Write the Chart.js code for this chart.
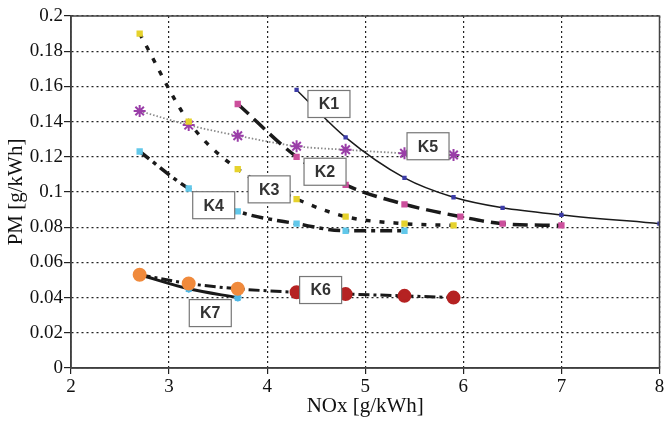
<!DOCTYPE html>
<html>
<head>
<meta charset="utf-8">
<script src="https://cdn.jsdelivr.net/npm/chart.js@4.4.1/dist/chart.umd.min.js"></script>
<style>
    html, body { margin: 0; padding: 0; background: #fff; }
    #wrap { width: 668px; height: 421px; }
</style>
</head>
<body>
<div id="wrap"><canvas id="pmChart"></canvas></div>
<script>
// NOx [g/kWh] / PM [g/kWh] 값
const k1X = [4.3, 4.8, 5.4, 5.9, 6.4, 7.0, 8.0];
const k1Y = [0.158, 0.131, 0.108, 0.097, 0.091, 0.087, 0.082];
const k2X = [3.7, 4.3, 4.8, 5.4, 5.97, 6.4, 7.0];
const k2Y = [0.150, 0.120, 0.104, 0.093, 0.086, 0.082, 0.081];
const k3X = [2.7, 3.2, 3.7, 4.3, 4.8, 5.4, 5.9];
const k3Y = [0.190, 0.140, 0.113, 0.096, 0.086, 0.082, 0.081];
const k4X = [2.7, 3.2, 3.7, 4.3, 4.8, 5.4];
const k4Y = [0.123, 0.102, 0.089, 0.082, 0.078, 0.078];
const k5X = [2.7, 3.2, 3.7, 4.3, 4.8, 5.4, 5.9];
const k5Y = [0.146, 0.138, 0.132, 0.126, 0.124, 0.122, 0.121];
const k6X = [2.7, 3.2, 3.7, 4.3, 4.8, 5.4, 5.9];
const k6Y = [0.053, 0.048, 0.045, 0.043, 0.042, 0.041, 0.040];
const k7X = [2.7, 3.2, 3.7];
const k7Y = [0.053, 0.045, 0.040];

// 곡선 이름 라벨 (박스 중심, 데이터 좌표)
const curveNames = ['K1', 'K2', 'K3', 'K4', 'K5', 'K6', 'K7'];
const labelX = [4.63, 4.59, 4.02, 3.455, 5.64, 4.545, 3.42];
const labelY = [0.150, 0.1115, 0.1015, 0.0925, 0.126, 0.0443, 0.0312];

const xTicks = [2, 3, 4, 5, 6, 7, 8];
const yMax = 0.2;

const toPoints = (xs, ys) => xs.map((x, i) => ({ x: x, y: ys[i] }));

// K6: 앞의 세 점은 주황, 나머지는 적갈색
const k6Colors = k6X.map((x, i) => i < 3 ? '#f08a3c' : '#b52222');

const frameBox = {
    id: 'frameBox',
    afterDraw(chart) {
        const { ctx, chartArea: a } = chart;
        ctx.save();
        ctx.strokeStyle = '#444';
        ctx.lineWidth = 1.5;
        ctx.strokeRect(a.left, a.top, a.right - a.left, a.bottom - a.top);
        ctx.restore();
    }
};

const curveLabels = {
    id: 'curveLabels',
    afterDatasetsDraw(chart) {
        const { ctx, scales: { x, y } } = chart;
        ctx.save();
        ctx.font = 'bold 16px "Liberation Sans", Arial, sans-serif';
        ctx.textAlign = 'center';
        ctx.textBaseline = 'middle';
        curveNames.forEach((name, i) => {
            const px = x.getPixelForValue(labelX[i]);
            const py = y.getPixelForValue(labelY[i]);
            const w = 42, h = 27;
            ctx.fillStyle = '#fff';
            ctx.fillRect(px - w / 2, py - h / 2, w, h);
            ctx.strokeStyle = '#777';
            ctx.lineWidth = 1.2;
            ctx.strokeRect(px - w / 2, py - h / 2, w, h);
            ctx.fillStyle = '#333';
            ctx.fillText(name, px, py + 1);
        });
        ctx.restore();
    }
};

const lineBase = {
    showLine: true,
    cubicInterpolationMode: 'monotone',
    borderColor: '#1a1a1a',
    fill: false
};

new Chart(document.getElementById('pmChart'), {
    type: 'scatter',
    data: {
        datasets: [
            Object.assign({}, lineBase, {
                label: 'K6', data: toPoints(k6X, k6Y),
                borderWidth: 3, borderDash: [11, 4, 3, 4],
                pointStyle: 'circle', pointRadius: 5.5,
                pointBackgroundColor: k6Colors, pointBorderColor: k6Colors
            }),
            Object.assign({}, lineBase, {
                label: 'K7', data: toPoints(k7X, k7Y),
                borderWidth: 3,
                pointStyle: 'star', pointRadius: 4, pointBorderWidth: 2,
                pointBorderColor: '#4fb8e6', pointBackgroundColor: '#4fb8e6'
            }),
            Object.assign({}, lineBase, {
                label: 'K1', data: toPoints(k1X, k1Y),
                borderWidth: 1.5,
                pointStyle: 'rect', pointRadius: 2,
                pointBackgroundColor: '#3c3ca8', pointBorderColor: '#3c3ca8'
            }),
            Object.assign({}, lineBase, {
                label: 'K2', data: toPoints(k2X, k2Y),
                borderWidth: 3.5, borderDash: [15, 7],
                pointStyle: 'rect', pointRadius: 2,
                pointBackgroundColor: '#cc4f9c', pointBorderColor: '#cc4f9c'
            }),
            Object.assign({}, lineBase, {
                label: 'K3', data: toPoints(k3X, k3Y),
                borderWidth: 3.5, borderDash: [5, 9],
                pointStyle: 'rect', pointRadius: 2,
                pointBackgroundColor: '#e6d22c', pointBorderColor: '#e6d22c'
            }),
            Object.assign({}, lineBase, {
                label: 'K4', data: toPoints(k4X, k4Y),
                borderWidth: 3.5, borderDash: [12, 5, 4, 5],
                pointStyle: 'rect', pointRadius: 2,
                pointBackgroundColor: '#62c8ea', pointBorderColor: '#62c8ea'
            }),
            Object.assign({}, lineBase, {
                label: 'K5', data: toPoints(k5X, k5Y),
                borderWidth: 1.8, borderDash: [1.5, 2], borderColor: '#8a8a8a',
                pointStyle: 'star', pointRadius: 6, pointBorderWidth: 2,
                pointBorderColor: '#9a3ea8', pointBackgroundColor: '#9a3ea8'
            })
        ]
    },
    options: {
        responsive: true,
        maintainAspectRatio: false,
        animation: false,
        layout: { padding: { left: 0, right: 3, top: 16, bottom: 0 } },
        plugins: {
            legend: { display: false },
            tooltip: { enabled: false }
        },
        scales: {
            x: {
                type: 'linear', min: xTicks[0], max: xTicks[xTicks.length - 1],
                afterBuildTicks: s => { s.ticks = xTicks.map(v => ({ value: v })); },
                afterFit: s => { s.height = 53; s.paddingLeft = 0; s.paddingRight = 0; },
                ticks: {
                    color: '#111', padding: 2,
                    font: { family: '"Liberation Serif", "Times New Roman", serif', size: 19 }
                },
                grid: { color: '#222', lineWidth: 1.2, tickLength: 6, tickColor: '#222' },
                border: { display: true, color: '#333', width: 1.5, dash: [2, 3] },
                title: {
                    display: true, text: 'NOx [g/kWh]', color: '#111', padding: { top: 0, bottom: 2 },
                    font: { family: '"Liberation Serif", "Times New Roman", serif', size: 21 }
                }
            },
            y: {
                type: 'linear', min: 0, max: yMax,
                ticks: {
                    stepSize: 0.02, color: '#111', padding: 1,
                    callback: v => String(+v.toFixed(2)),
                    font: { family: '"Liberation Serif", "Times New Roman", serif', size: 19 }
                },
                afterFit: s => { s.width = 71; },
                grid: { color: '#222', lineWidth: 1.2, tickLength: 7, tickColor: '#222' },
                border: { display: true, color: '#333', width: 1.5, dash: [2, 3] },
                title: {
                    display: true, text: 'PM [g/kWh]', color: '#111', padding: { top: 4, bottom: 0 },
                    font: { family: '"Liberation Serif", "Times New Roman", serif', size: 21 }
                }
            }
        }
    },
    plugins: [curveLabels, frameBox]
});
</script>
</body>
</html>
